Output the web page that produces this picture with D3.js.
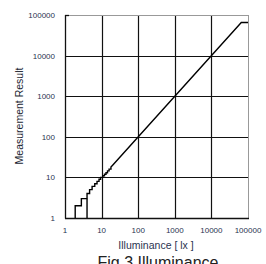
<!DOCTYPE html>
<html>
<head>
<meta charset="utf-8">
<script src="https://cdnjs.cloudflare.com/ajax/libs/d3/7.8.5/d3.min.js"></script>
<style>
  body { margin: 0; background: #fff; }
  text { font-family: "Liberation Sans", Arial, sans-serif; }
</style>
</head>
<body>
<svg id="chart" width="266" height="264"></svg>
<script>
// Tick values (both axes are log decades)
var TICKS = [1, 10, 100, 1000, 10000, 100000];

var traceLux = [1.9, 1.9, 2.8, 2.8, 4, 4, 4.7, 4.7, 5.5, 5.5, 6.5, 6.5, 7.5, 7.5, 8.5, 8.5, 9.4, 9.4, 10.8, 10.8, 12, 12, 13.2, 13.2, 14.5, 14.5, 16, 16, 18, 18, 20, 65535, 100000];
var traceRes = [1, 2, 2, 3, 3, 4, 4, 5, 5, 6, 6, 7, 7, 8, 8, 9, 9, 10, 10, 11, 11, 12, 12, 13, 13, 14.5, 14.5, 16, 16, 18, 20, 65535, 65535];

// Second short rise from the floor
var riseLux = [4, 4];
var riseRes = [1, 3];

var LEFT = 65, RIGHT = 248, TOP = 15, BOTTOM = 218;
var AXIS_COLOR = "#111";
var LABEL_COLOR = "#2a3350";

var svg = d3.select("#chart");

var xScale = d3.scaleLog().domain([1, 100000]).range([LEFT, RIGHT]);
var yScale = d3.scaleLog().domain([1, 100000]).range([BOTTOM, TOP]);

// Gridlines
svg.append("g")
    .selectAll("line")
    .data(TICKS.slice(1, 5))
    .enter()
    .append("line")
    .attr("x1", d => Math.round(xScale(d)) + 0.5)
    .attr("x2", d => Math.round(xScale(d)) + 0.5)
    .attr("y1", TOP)
    .attr("y2", BOTTOM)
    .attr("stroke", AXIS_COLOR)
    .attr("stroke-width", 1.2);

svg.append("g")
    .selectAll("line")
    .data(TICKS.slice(1, 5))
    .enter()
    .append("line")
    .attr("x1", LEFT)
    .attr("x2", RIGHT)
    .attr("y1", d => Math.round(yScale(d)) + 0.5)
    .attr("y2", d => Math.round(yScale(d)) + 0.5)
    .attr("stroke", AXIS_COLOR)
    .attr("stroke-width", 1.2);

// Frame: grey top/right, black left/bottom
svg.append("line").attr("x1", LEFT).attr("x2", RIGHT + 0.5).attr("y1", TOP + 0.5).attr("y2", TOP + 0.5)
    .attr("stroke", "#999").attr("stroke-width", 1);
svg.append("line").attr("x1", RIGHT + 0.5).attr("x2", RIGHT + 0.5).attr("y1", TOP).attr("y2", BOTTOM)
    .attr("stroke", "#999").attr("stroke-width", 1);
svg.append("line").attr("x1", LEFT + 0.5).attr("x2", LEFT + 0.5).attr("y1", TOP).attr("y2", BOTTOM + 0.5)
    .attr("stroke", AXIS_COLOR).attr("stroke-width", 1.3);
svg.append("line").attr("x1", LEFT).attr("x2", RIGHT + 1).attr("y1", BOTTOM + 0.5).attr("y2", BOTTOM + 0.5)
    .attr("stroke", AXIS_COLOR).attr("stroke-width", 1.3);
svg.append("line").attr("x1", LEFT).attr("x2", LEFT + 4).attr("y1", TOP + 0.5).attr("y2", TOP + 0.5)
    .attr("stroke", AXIS_COLOR).attr("stroke-width", 1.3);

// Tick labels
svg.append("g")
    .selectAll("text")
    .data(TICKS)
    .enter()
    .append("text")
    .attr("x", d => xScale(d))
    .attr("y", 233)
    .attr("text-anchor", "middle")
    .attr("font-size", "8px")
    .style("fill", LABEL_COLOR)
    .text(d => d);

svg.append("g")
    .selectAll("text")
    .data(TICKS)
    .enter()
    .append("text")
    .attr("x", 55)
    .attr("y", d => yScale(d) + 3)
    .attr("text-anchor", "end")
    .attr("font-size", "8px")
    .style("fill", LABEL_COLOR)
    .text(d => d);

// Axis titles
svg.append("text")
    .attr("x", 156)
    .attr("y", 249)
    .attr("text-anchor", "middle")
    .attr("font-size", "10.5px")
    .style("fill", LABEL_COLOR)
    .text("Illuminance [ lx ]");

svg.append("text")
    .attr("transform", "translate(23,116) rotate(-90)")
    .attr("text-anchor", "middle")
    .attr("font-size", "10.5px")
    .style("fill", "#1c1f33")
    .text("Measurement Result");

// Caption (cut by the bottom edge, as in the source figure)
svg.append("text")
    .attr("x", 158)
    .attr("y", 268)
    .attr("text-anchor", "middle")
    .attr("font-size", "16px")
    .style("fill", "#222")
    .text("Fig.3 Illuminance");

// Traces
var lineGen = d3.line()
    .x(d => xScale(d[0]))
    .y(d => yScale(d[1]));

svg.append("path")
    .attr("d", lineGen(d3.zip(traceLux, traceRes)))
    .attr("fill", "none")
    .attr("stroke", "#000")
    .attr("stroke-width", 1.4);

svg.append("path")
    .attr("d", lineGen(d3.zip(riseLux, riseRes)))
    .attr("fill", "none")
    .attr("stroke", "#000")
    .attr("stroke-width", 1.4);
</script>
</body>
</html>
